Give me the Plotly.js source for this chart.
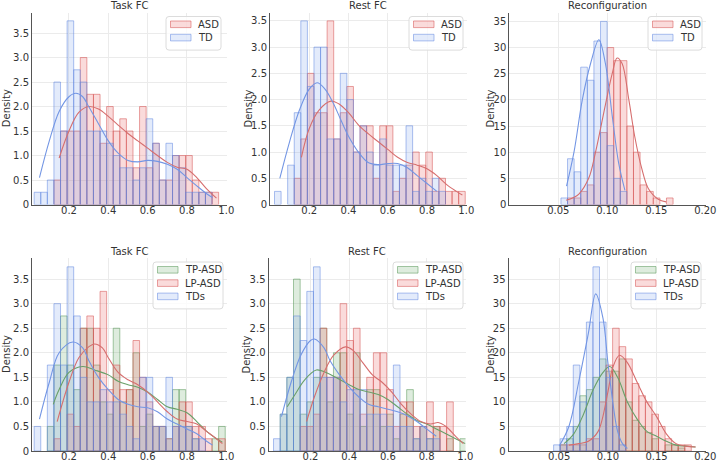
<!DOCTYPE html>
<html><head><meta charset="utf-8">
<script src="https://cdn.plot.ly/plotly-3.0.1.min.js"></script>
<style>body{margin:0;background:#fff;} #chart{width:717px;height:461px;}</style>
</head><body><div id="chart"></div>
<script>
// ---------- DATA ----------
// Panel 1: Task FC (ASD vs TD)
const p1BinStart = 0.023, p1BinWidth = 0.0335;
const p1TD  = [0.25,0.25,0.5,2.5,1.5,3.75,2.75,2.5,1.5,1.5,1.5,1.25,1.0,0.75,0.75,0.5,0.75,1.75,1.25,0.5,1.25,1.0,0.75,0.25,0.25,0.25,0.25,0,0];
const p1ASD = [0,0,0,0.5,1.5,1.5,1.5,3.0,2.25,2.25,1.25,2.0,1.5,1.75,1.5,0.75,2.0,0.75,1.25,0.5,0.5,1.0,1.0,1.0,0.5,0.25,0.25,0.25,0];
const p1KdeTDx  = [0.05,0.1,0.15,0.2,0.235,0.27,0.3,0.35,0.4,0.45,0.5,0.55,0.6,0.65,0.7,0.75,0.8,0.85,0.9,0.93];
const p1KdeTDy  = [0.55,1.3,1.9,2.2,2.27,2.2,2.0,1.65,1.3,1.05,0.9,0.87,0.9,0.88,0.82,0.72,0.55,0.38,0.22,0.14];
const p1KdeASDx = [0.15,0.2,0.25,0.3,0.35,0.4,0.45,0.5,0.55,0.6,0.65,0.7,0.75,0.8,0.85,0.9,0.95];
const p1KdeASDy = [0.95,1.5,1.88,2.0,1.95,1.8,1.62,1.45,1.3,1.15,1.0,0.86,0.76,0.72,0.55,0.32,0.13];

// Panel 2: Rest FC (ASD vs TD)
const p2BinStart = 0.023, p2BinWidth = 0.0335;
const p2TD  = [0.25,0,0.75,1.75,3.5,2.25,3.0,3.0,1.25,1.25,2.5,2.0,1.0,1.5,1.0,0.75,1.25,0.75,0.75,0.75,1.5,0.25,0.5,0.25,0.5,0.25,0,0,0];
const p2ASD = [0,0,0,0.5,1.25,2.5,1.75,1.75,3.5,1.25,1.75,2.25,1.0,1.5,1.5,0.5,1.5,1.5,0.25,0.5,0.75,1.0,0.75,1.0,0.25,0.5,0.25,0.25,0.25];
const p2KdeTDx  = [0.05,0.1,0.15,0.2,0.24,0.28,0.32,0.36,0.4,0.45,0.5,0.55,0.6,0.65,0.7,0.75,0.8,0.85];
const p2KdeTDy  = [0.5,1.2,1.8,2.2,2.32,2.2,1.95,1.62,1.3,1.0,0.8,0.76,0.78,0.78,0.7,0.55,0.4,0.25];
const p2KdeASDx = [0.16,0.2,0.25,0.31,0.35,0.4,0.45,0.5,0.55,0.6,0.65,0.7,0.75,0.8,0.85,0.9,0.95,0.98];
const p2KdeASDy = [0.9,1.45,1.8,1.97,1.92,1.75,1.52,1.35,1.2,1.05,0.9,0.8,0.75,0.68,0.55,0.38,0.25,0.18];

// Panel 3: Reconfiguration (ASD vs TD)
const p3BinStart = 0.0527, p3BinWidth = 0.00673;
const p3TD  = [1.25,8.75,6.25,26.25,23.75,31.25,35,11.25,5,2.5];
const p3ASD = [0,1.25,1.25,2.5,3.75,10,13.75,30,27.5,27.5,15,10,3.75,2.5,1.25,0,1.25];
const p3KdeTDx  = [0.0584,0.066,0.0745,0.083,0.0914,0.098,0.105,0.1115,0.118];
const p3KdeTDy  = [3.5,10,20,27,31.5,27,17,8,2.7];
const p3KdeASDx = [0.058,0.065,0.071,0.081,0.088,0.098,0.105,0.11,0.115,0.122,0.128,0.135,0.142,0.152,0.16];
const p3KdeASDy = [0.8,1.3,2,5,10,19,25,28,27,20,13,7,3,1,0.5];

// Panel 4: Task FC (TP-ASD, LP-ASD, TDs)
const p4BinStart = 0.023, p4BinWidth = 0.0335;
const p4TDs = [0.5,0,1.75,3.0,1.75,3.75,2.75,1.5,1.0,1.0,1.25,1.0,1.0,0.75,0.5,0.25,1.5,1.5,0.5,0.5,1.5,0.5,0.5,0.5,0.25,0.25,0,0,0];
const p4TP  = [0,0,0.5,1.75,2.75,1.75,1.25,2.5,2.5,1.75,1.0,0.75,2.5,1.0,1.25,2.0,0.5,0.75,0.5,0.5,0.25,1.25,1.25,0.5,0.25,0,0,0.25,0.5];
const p4LP  = [0,0,0,0.25,0,0.75,0.5,2.5,2.75,2.5,3.25,1.25,1.75,1.25,1.25,2.25,1.5,1.0,0.5,0.5,0.25,0.5,1.0,1.0,0.5,0.5,0.25,0,0.25];
const p4KdeTDsx = [0.05,0.1,0.15,0.22,0.27,0.3,0.35,0.4,0.45,0.5,0.55,0.6,0.65,0.7,0.75,0.8,0.85,0.9,0.93];
const p4KdeTDsy = [0.65,1.4,2.0,2.22,2.1,1.85,1.5,1.25,1.05,0.95,0.9,0.88,0.8,0.65,0.55,0.45,0.35,0.2,0.12];
const p4KdeTPx  = [0.12,0.15,0.2,0.27,0.33,0.4,0.45,0.5,0.55,0.6,0.65,0.7,0.75,0.8,0.85,0.9,0.95,0.98];
const p4KdeTPy  = [0.95,1.25,1.6,1.72,1.65,1.55,1.42,1.35,1.3,1.2,1.05,0.9,0.85,0.78,0.6,0.4,0.25,0.18];
const p4KdeLPx  = [0.14,0.2,0.25,0.3,0.33,0.37,0.4,0.45,0.5,0.55,0.6,0.65,0.7,0.75,0.8,0.85,0.9,0.95,0.98];
const p4KdeLPy  = [0.6,1.4,1.9,2.12,2.18,2.1,1.9,1.6,1.45,1.35,1.2,1.0,0.8,0.65,0.6,0.55,0.4,0.25,0.15];

// Panel 5: Rest FC (TP-ASD, LP-ASD, TDs)
const p5BinStart = 0.009, p5BinWidth = 0.0344;
const p5TDs = [0.25,0.75,1.5,2.75,2.25,3.25,3.75,1.5,1.5,1.5,1.0,1.25,1.25,1.25,0.75,0.75,0.75,0.5,1.75,0.5,0.5,0.25,0.5,0.25,0.25,0,0,0,0];
const p5TP  = [0,0.75,1.5,3.5,0.75,1.0,1.5,2.5,1.0,2.0,2.0,0.75,2.0,0.5,1.25,1.25,0.5,0.75,0.25,0.75,1.25,0.25,0.5,0.25,0.5,0,0.25,0,0.25];
const p5LP  = [0,0,0,0,0.5,0.5,0.75,2.5,1.5,1.5,3.0,2.25,2.5,0.75,1.5,2.0,2.0,1.25,0.5,1.0,1.0,0.5,0.5,1.0,0.5,0.5,1.0,0,0];
const p5KdeTDsx = [0.05,0.1,0.15,0.2,0.22,0.27,0.3,0.35,0.4,0.45,0.5,0.55,0.6,0.65,0.7,0.75,0.8,0.85];
const p5KdeTDsy = [0.7,1.4,1.95,2.25,2.28,2.1,1.85,1.55,1.3,1.1,0.95,0.9,0.85,0.8,0.72,0.6,0.45,0.3];
const p5KdeTPx  = [0.08,0.12,0.17,0.23,0.28,0.33,0.4,0.45,0.5,0.55,0.6,0.65,0.7,0.75,0.8,0.85,0.9,0.95,1.0];
const p5KdeTPy  = [0.9,1.15,1.45,1.65,1.6,1.5,1.35,1.25,1.2,1.15,1.05,0.9,0.75,0.62,0.55,0.45,0.35,0.25,0.15];
const p5KdeLPx  = [0.18,0.22,0.27,0.32,0.38,0.42,0.47,0.52,0.57,0.62,0.67,0.72,0.77,0.82,0.86,0.9,0.95,0.99];
const p5KdeLPy  = [0.6,1.1,1.6,1.95,2.12,2.05,1.8,1.55,1.4,1.2,0.95,0.75,0.6,0.55,0.58,0.5,0.3,0.15];

// Panel 6: Reconfiguration (TP-ASD, LP-ASD, TDs)
const p6BinStart = 0.0443, p6BinWidth = 0.00673;
const p6TDs = [1.25,2.5,5,17.5,10,26.25,37.5,26.25,15,5,1.25];
const p6TP  = [0,1.25,2.5,5,11.25,12.5,15,18.75,16.25,16.25,18.75,10,6.25,5,3.75,2.5,0,1.25,1.25,0.6];
const p6LP  = [0,1.25,1.25,1.25,1.25,2.5,2.5,10,17.5,25,21.25,18.75,13.75,11.25,10,7.5,5,2.5,1.25,1.25,1.25];
const p6KdeTDsx = [0.05,0.06,0.07,0.08,0.0875,0.095,0.1,0.105,0.11,0.115,0.12];
const p6KdeTDsy = [1,5,14,24,32,27,18,10,4,1.5,0.5];
const p6KdeTPx  = [0.055,0.065,0.075,0.085,0.095,0.102,0.11,0.12,0.13,0.14,0.15,0.16,0.17,0.18,0.19];
const p6KdeTPy  = [1.5,3.5,7.5,12.5,16,17.2,15,10,6.5,4,3,2,1.2,1,0.8];
const p6KdeLPx  = [0.06,0.07,0.08,0.09,0.1,0.105,0.112,0.12,0.13,0.14,0.15,0.16,0.17,0.18,0.19];
const p6KdeLPy  = [1.2,1.5,2,4,12,17,19.5,18,14,10,7,3.5,1.5,1,0.8];

const fcTickVals = [0.2,0.4,0.6,0.8,1.0];
const fcTickText = ['0.2','0.4','0.6','0.8','1.0'];
const rcTickVals = [0.05,0.10,0.15,0.20];
const rcTickText = ['0.05','0.10','0.15','0.20'];
const fcYVals = [0,0.5,1.0,1.5,2.0,2.5,3.0,3.5];
const fcYText = ['0','0.5','1.0','1.5','2.0','2.5','3.0','3.5'];
const rcYVals = [0,5,10,15,20,25,30,35];
const rcYText = ['0','5','10','15','20','25','30','35'];
const topLegend = ['ASD','TD'];
const bottomLegend = ['TP-ASD','LP-ASD','TDs'];

// ---------- STYLE ----------
const W = 717, H = 461;
const COL = {
  red:   {fill:'rgba(235,105,105,0.24)', edge:'rgba(215,85,85,0.55)', line:'rgb(214,110,110)'},
  blue:  {fill:'rgba(115,155,235,0.20)', edge:'rgba(95,135,225,0.52)', line:'rgb(115,150,228)'},
  green: {fill:'rgba(105,170,105,0.22)', edge:'rgba(85,150,85,0.52)', line:'rgb(105,160,105)'}
};
const FONT = 'DejaVu Sans, Liberation Sans, sans-serif';
const TXT = '#333333';

const traces = [];
function centers(start, w, n){ const c=[]; for(let i=0;i<n;i++) c.push(start + w*(i+0.5)); return c; }
function axSuffix(idx){ return idx===1 ? '' : String(idx); }
function addHist(vals, start, w, col, name, idx){
  const ax = axSuffix(idx);
  traces.push({type:'bar', x:centers(start,w,vals.length), y:vals.map(v=>v===0?null:v), width:w,
    marker:{color:col.fill, line:{color:col.edge, width:1}}, name:name, showlegend:false,
    xaxis:'x'+ax, yaxis:'y'+ax, hoverinfo:'skip'});
}
function addKde(xs, ys, col, idx){
  const ax = axSuffix(idx);
  traces.push({type:'scatter', mode:'lines', x:xs, y:ys, line:{color:col.line, width:1.1, shape:'spline', smoothing:1.0},
    showlegend:false, xaxis:'x'+ax, yaxis:'y'+ax, hoverinfo:'skip'});
}

addHist(p1ASD, p1BinStart, p1BinWidth, COL.red, 'ASD', 1);
addHist(p1TD,  p1BinStart, p1BinWidth, COL.blue, 'TD', 1);
addKde(p1KdeASDx, p1KdeASDy, COL.red, 1);
addKde(p1KdeTDx, p1KdeTDy, COL.blue, 1);

addHist(p2ASD, p2BinStart, p2BinWidth, COL.red, 'ASD', 2);
addHist(p2TD,  p2BinStart, p2BinWidth, COL.blue, 'TD', 2);
addKde(p2KdeASDx, p2KdeASDy, COL.red, 2);
addKde(p2KdeTDx, p2KdeTDy, COL.blue, 2);

addHist(p3ASD, p3BinStart, p3BinWidth, COL.red, 'ASD', 3);
addHist(p3TD,  p3BinStart, p3BinWidth, COL.blue, 'TD', 3);
addKde(p3KdeASDx, p3KdeASDy, COL.red, 3);
addKde(p3KdeTDx, p3KdeTDy, COL.blue, 3);

addHist(p4TP,  p4BinStart, p4BinWidth, COL.green, 'TP-ASD', 4);
addHist(p4LP,  p4BinStart, p4BinWidth, COL.red, 'LP-ASD', 4);
addHist(p4TDs, p4BinStart, p4BinWidth, COL.blue, 'TDs', 4);
addKde(p4KdeTPx, p4KdeTPy, COL.green, 4);
addKde(p4KdeLPx, p4KdeLPy, COL.red, 4);
addKde(p4KdeTDsx, p4KdeTDsy, COL.blue, 4);

addHist(p5TP,  p5BinStart, p5BinWidth, COL.green, 'TP-ASD', 5);
addHist(p5LP,  p5BinStart, p5BinWidth, COL.red, 'LP-ASD', 5);
addHist(p5TDs, p5BinStart, p5BinWidth, COL.blue, 'TDs', 5);
addKde(p5KdeTPx, p5KdeTPy, COL.green, 5);
addKde(p5KdeLPx, p5KdeLPy, COL.red, 5);
addKde(p5KdeTDsx, p5KdeTDsy, COL.blue, 5);

addHist(p6TP,  p6BinStart, p6BinWidth, COL.green, 'TP-ASD', 6);
addHist(p6LP,  p6BinStart, p6BinWidth, COL.red, 'LP-ASD', 6);
addHist(p6TDs, p6BinStart, p6BinWidth, COL.blue, 'TDs', 6);
addKde(p6KdeTPx, p6KdeTPy, COL.green, 6);
addKde(p6KdeLPx, p6KdeLPy, COL.red, 6);
addKde(p6KdeTDsx, p6KdeTDsy, COL.blue, 6);

// ---------- LAYOUT ----------
const panels = [
  {l:32, r:226.5, xr:[0.012,1.001], top:12.5, bot:204.5, ymax:3.92, xv:fcTickVals, xt:fcTickText, yv:fcYVals, yt:fcYText, title:'Task FC', dx:6.7},
  {l:270, r:466.5, xr:[0.0,1.001], top:12.5, bot:204.5, ymax:3.66, xv:fcTickVals, xt:fcTickText, yv:fcYVals, yt:fcYText, title:'Rest FC', dx:248},
  {l:509.3, r:705.5, xr:[0,0.2002], top:12.5, bot:204.5, ymax:36.7, xv:rcTickVals, xt:rcTickText, yv:rcYVals, yt:rcYText, title:'Reconfiguration', dx:490},
  {l:32, r:226.5, xr:[0.012,1.001], top:258, bot:451, ymax:3.93, xv:fcTickVals, xt:fcTickText, yv:fcYVals, yt:fcYText, title:'Task FC', dx:6.5},
  {l:268.5, r:465.5, xr:[-0.017,1.001], top:258, bot:451, ymax:3.93, xv:fcTickVals, xt:fcTickText, yv:fcYVals, yt:fcYText, title:'Rest FC', dx:246},
  {l:508.5, r:705.5, xr:[-0.002,0.2002], top:258, bot:451, ymax:39.3, xv:rcTickVals, xt:rcTickText, yv:rcYVals, yt:rcYText, title:'Reconfiguration', dx:490}
];

const layout = {
  width:W, height:H, margin:{l:0,r:0,t:0,b:0},
  paper_bgcolor:'#ffffff', plot_bgcolor:'#ffffff',
  font:{family:FONT, size:10, color:TXT},
  barmode:'overlay', showlegend:false, annotations:[], shapes:[]
};
panels.forEach((p,i)=>{
  const k = axSuffix(i+1);
  const common = {showline:true, linecolor:'#555555', linewidth:1, showgrid:true, gridcolor:'#ebebeb', gridwidth:1,
    zeroline:false, ticks:'', automargin:false, fixedrange:true, ticklabeloverflow:'allow', tickfont:{family:FONT,size:10,color:TXT}};
  layout['xaxis'+k] = Object.assign({domain:[p.l/W, p.r/W], range:p.xr, anchor:'y'+k, tickvals:p.xv, ticktext:p.xt, ticklabelstandoff:-4}, common);
  layout['yaxis'+k] = Object.assign({domain:[1-p.bot/H, 1-p.top/H], range:[0,p.ymax], anchor:'x'+k, tickvals:p.yv, ticktext:p.yt}, common);
  layout.annotations.push({text:p.title, xref:'paper', yref:'paper', x:(p.l+p.r)/2/W, y:1-(p.top-6.5)/H,
    xanchor:'center', yanchor:'middle', showarrow:false, font:{family:FONT,size:10,color:TXT}});
  layout.annotations.push({text:'Density', xref:'paper', yref:'paper', x:p.dx/W, y:1-((p.top+p.bot)/2)/H,
    xanchor:'center', yanchor:'middle', textangle:-90, showarrow:false, font:{family:FONT,size:10,color:TXT}});
});

// custom matplotlib-style legends
function roundRect(x0,y0,x1,y1,r){
  const X=v=>v/W, Y=v=>1-v/H;
  return `M ${X(x0+r)} ${Y(y0)} L ${X(x1-r)} ${Y(y0)} Q ${X(x1)} ${Y(y0)} ${X(x1)} ${Y(y0+r)} L ${X(x1)} ${Y(y1-r)} Q ${X(x1)} ${Y(y1)} ${X(x1-r)} ${Y(y1)} L ${X(x0+r)} ${Y(y1)} Q ${X(x0)} ${Y(y1)} ${X(x0)} ${Y(y1-r)} L ${X(x0)} ${Y(y0+r)} Q ${X(x0)} ${Y(y0)} ${X(x0+r)} ${Y(y0)} Z`;
}
function addLegend(x0, y0, w, labels, cols){
  const rowH = 13.3, h = 9 + rowH*labels.length - 2;
  layout.shapes.push({type:'path', xref:'paper', yref:'paper', path:roundRect(x0,y0,x0+w,y0+h,3),
    fillcolor:'rgba(255,255,255,0.8)', line:{color:'#dcdcdc', width:1}});
  labels.forEach((lab,j)=>{
    const cy = y0 + 7.8 + rowH*j;
    layout.shapes.push({type:'rect', xref:'paper', yref:'paper', x0:(x0+4.5)/W, x1:(x0+25)/W,
      y0:1-(cy+3.3)/H, y1:1-(cy-3.3)/H, fillcolor:cols[j].fill, line:{color:cols[j].edge, width:1}});
    layout.annotations.push({text:lab, xref:'paper', yref:'paper', x:(x0+30)/W, y:1-cy/H, xanchor:'left', yanchor:'middle',
      showarrow:false, font:{family:FONT,size:10,color:TXT}});
  });
}
addLegend(166, 16.5, 55, topLegend, [COL.red, COL.blue]);
addLegend(409, 16.5, 54, topLegend, [COL.red, COL.blue]);
addLegend(648, 16.5, 54, topLegend, [COL.red, COL.blue]);
addLegend(153, 262, 70, bottomLegend, [COL.green, COL.red, COL.blue]);
addLegend(393, 262, 70, bottomLegend, [COL.green, COL.red, COL.blue]);
addLegend(631, 262, 70, bottomLegend, [COL.green, COL.red, COL.blue]);

Plotly.newPlot('chart', traces, layout, {staticPlot:true, displayModeBar:false});
</script></body></html>
